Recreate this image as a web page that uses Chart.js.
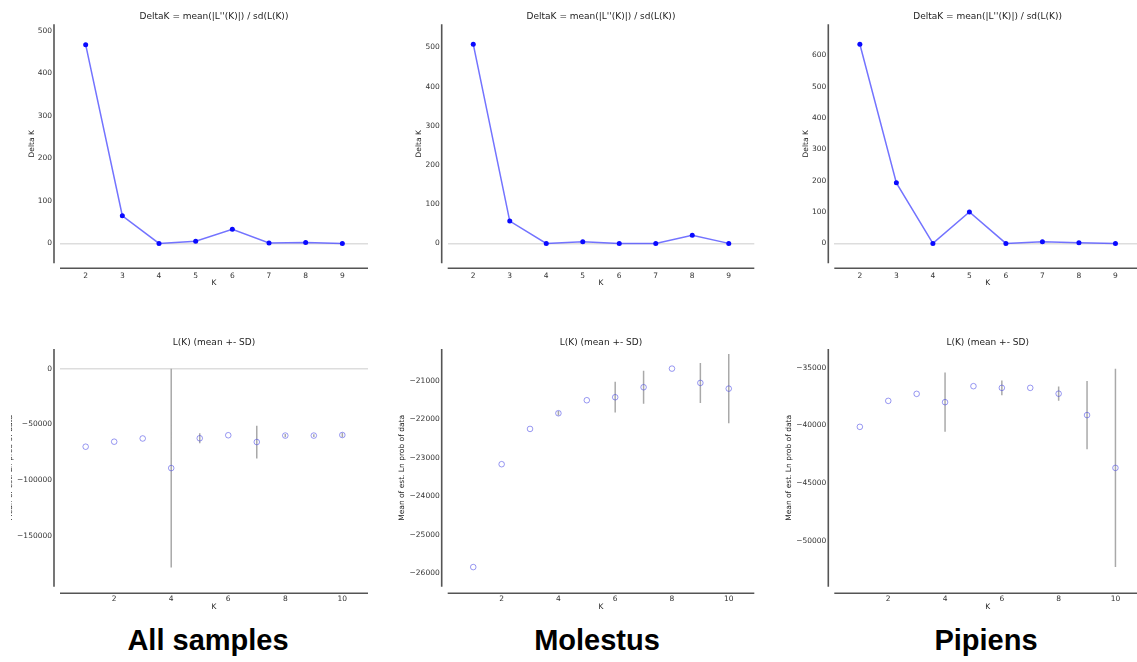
<!DOCTYPE html>
<html><head><meta charset="utf-8">
<script src="https://cdn.jsdelivr.net/npm/chart.js@4.4.1/dist/chart.umd.min.js"></script>
<style>
html,body{margin:0;padding:0;background:#fff;overflow:hidden;width:1137px;height:662px;position:relative;}
.wrap{position:absolute;overflow:hidden;}
.wrap canvas{position:absolute;top:0;}
.lbl{position:absolute;top:624px;font-family:'Liberation Sans',Arial,sans-serif;font-weight:bold;font-size:29px;line-height:33px;color:#000;white-space:nowrap;transform:translateX(-50%);}
</style></head><body>
<div class="lbl" style="left:208px">All samples</div>
<div class="lbl" style="left:597px">Molestus</div>
<div class="lbl" style="left:986px">Pipiens</div>
<script>
// ---------------- DATA ----------------
const kDelta = [2, 3, 4, 5, 6, 7, 8, 9];
const deltaAll = [468, 65, 0, 5, 33, 1, 2, 0];
const deltaMolestus = [508, 57, 0, 4, 0, 0, 21, 0];
const deltaPipiens = [635, 193, 0, 100, 0, 5, 2, 0];

const kL = [1, 2, 3, 4, 5, 6, 7, 8, 9, 10];
const meanAll = [-70000, -65500, -62600, -89200, -62400, -59700, -65800, -60000, -60000, -59500];
const sdAll = [0, 0, 0, 89300, 4500, 0, 14700, 1500, 1200, 2000];
const meanMolestus = [-25840, -23165, -22248, -21840, -21502, -21424, -21164, -20680, -21052, -21200];
const sdMolestus = [0, 0, 0, 60, 0, 400, 430, 0, 520, 900];
const meanPipiens = [-40140, -37887, -37280, -38000, -36613, -36760, -36760, -37265, -39120, -43700];
const sdPipiens = [0, 0, 0, 2570, 0, 630, 0, 620, 2960, 8600];

const topKTicks = [2, 3, 4, 5, 6, 7, 8, 9];
const botKTicks = [2, 4, 6, 8, 10];
const ticksDeltaAll = [0, 100, 200, 300, 400, 500];
const ticksDeltaMolestus = [0, 100, 200, 300, 400, 500];
const ticksDeltaPipiens = [0, 100, 200, 300, 400, 500, 600];
const ticksLAll = [0, -50000, -100000, -150000];
const ticksLMolestus = [-21000, -22000, -23000, -24000, -25000, -26000];
const ticksLPipiens = [-35000, -40000, -45000, -50000];

const titleTop = "DeltaK = mean(|L''(K)|) / sd(L(K))";
const titleBot = "L(K) (mean +- SD)";
const yLabTop = "Delta K";
const yLabBot = "Mean of est. Ln prob of data";
const xLab = "K";

// ---------------- STYLE / LAYOUT ----------------
const FONT = "'DejaVu Sans', 'Bitstream Vera Sans', sans-serif";
const TICK_FONT = {family: FONT, size: 7.5, lineHeight: 1.2};
const LAB_FONT = {family: FONT, size: 7.5, lineHeight: 1.2};
const TITLE_FONT = {family: FONT, size: 9, weight: 'normal', lineHeight: 1.2};

const ROW_TOP = {T: 24.3, B: 263.3, titleY: 16.5, xTitleY: 283.3, spineY: 5, cy: 0, ch: 300};
const ROW_BOT = {T: 349, B: 586.7, titleY: 342.3, xTitleY: 606.7, spineY: 6.5, cy: 330, ch: 290};
const COLS = [
  {cx: 0, cw: 380, L: 60, R: 368},
  {cx: 380, cw: 380, L: 447.7, R: 754.3},
  {cx: 760, cw: 395, L: 834.3, R: 1141}
];

const fmt = v => (v < 0 ? '\u2212' + Math.abs(v) : String(v));

const spines = {
  id: 'spines',
  afterDraw(chart, args, opts) {
    const a = chart.chartArea, c = chart.ctx;
    c.save();
    c.strokeStyle = '#555555';
    c.lineWidth = 1.6;
    c.beginPath();
    c.moveTo(a.left - opts.offX, a.top);
    c.lineTo(a.left - opts.offX, a.bottom);
    c.moveTo(a.left, a.bottom + opts.offY);
    c.lineTo(a.right, a.bottom + opts.offY);
    c.stroke();
    c.restore();
  }
};

function makePanel(row, col, yTitleX, clipX, spec) {
  const cx = col.cx, cw = col.cw, cy = row.cy, ch = row.ch;
  const wrap = document.createElement('div');
  wrap.className = 'wrap';
  wrap.style.left = clipX + 'px';
  wrap.style.top = cy + 'px';
  wrap.style.width = (cx + cw - clipX) + 'px';
  wrap.style.height = ch + 'px';
  const cv = document.createElement('canvas');
  cv.width = cw; cv.height = ch;
  cv.style.left = (cx - clipX) + 'px';
  cv.style.width = cw + 'px'; cv.style.height = ch + 'px';
  wrap.appendChild(cv);
  document.body.appendChild(wrap);

  const halfLab = LAB_FONT.size * LAB_FONT.lineHeight / 2;
  const halfTitle = TITLE_FONT.size * TITLE_FONT.lineHeight / 2;
  const padL = yTitleX - halfLab - cx;
  const yW = col.L - yTitleX + halfLab;
  const padR = cx + cw - col.R;
  const padT = row.titleY - halfTitle - cy;
  const titleGap = row.T - row.titleY - halfTitle;
  const xH = row.xTitleY + halfLab - row.B;
  const padB = cy + ch - (row.xTitleY + halfLab);

  new Chart(cv, {
    type: 'scatter',
    data: {datasets: spec.datasets},
    plugins: [spines],
    options: {
      responsive: false, animation: false, devicePixelRatio: 1,
      events: [],
      layout: {padding: {left: padL, right: padR, top: padT, bottom: padB}},
      plugins: {
        legend: {display: false}, tooltip: {enabled: false},
        title: {display: true, text: spec.title, fullSize: false, color: '#222',
                font: TITLE_FONT, padding: {top: 0, bottom: titleGap}},
        spines: {offX: 6, offY: row.spineY}
      },
      scales: {
        x: {
          type: 'linear', min: spec.xMin, max: spec.xMax,
          afterBuildTicks: s => { s.ticks = spec.xTicks.map(v => ({value: v})); },
          afterFit: s => { s.height = xH; },
          grid: {display: false, drawTicks: false},
          border: {display: false},
          ticks: {padding: 8, color: '#333', font: TICK_FONT, maxRotation: 0, autoSkip: false, callback: fmt},
          title: {display: true, text: xLab, color: '#222', font: LAB_FONT, padding: 0}
        },
        y: {
          type: 'linear', min: spec.yMin, max: spec.yMax,
          afterBuildTicks: s => { s.ticks = spec.yTicks.map(v => ({value: v})); },
          afterFit: s => { s.width = yW; },
          grid: {display: true, drawTicks: false, lineWidth: 1.5,
                 color: ctx => (ctx.tick && ctx.tick.value === 0 ? '#dddddd' : 'rgba(0,0,0,0)')},
          border: {display: false},
          ticks: {padding: 8, color: '#333', font: TICK_FONT, autoSkip: false, callback: fmt},
          title: {display: true, text: spec.yLabel, color: '#222', font: LAB_FONT, padding: 0}
        }
      }
    }
  });
}

function deltaSpec(vals, yTicks, yMin, yMax) {
  return {
    title: titleTop, yLabel: yLabTop, xTicks: topKTicks, yTicks, xMin: 1.3, xMax: 9.7, yMin, yMax,
    datasets: [{
      data: kDelta.map((k, i) => ({x: k, y: vals[i]})),
      showLine: true, borderColor: 'rgba(80,80,255,0.8)', borderWidth: 1.5, tension: 0, fill: false,
      pointRadius: 2.5, pointBackgroundColor: '#0a0aff', pointBorderColor: '#0a0aff', pointBorderWidth: 0
    }]
  };
}

function lkSpec(means, sds, yTicks, yMin, yMax) {
  const bars = [];
  kL.forEach((k, i) => {
    bars.push({x: k, y: means[i] - sds[i]});
    bars.push({x: k, y: means[i] + sds[i]});
    bars.push({x: k, y: null});
  });
  return {
    title: titleBot, yLabel: yLabBot, xTicks: botKTicks, yTicks, xMin: 0.1, xMax: 10.9, yMin, yMax,
    datasets: [
      {
        data: kL.map((k, i) => ({x: k, y: means[i]})),
        showLine: false, pointRadius: 2.8, pointBorderWidth: 1,
        pointBackgroundColor: 'rgba(0,0,0,0)', pointBorderColor: 'rgba(70,70,230,0.55)'
      },
      {
        data: bars, showLine: true, spanGaps: false, borderColor: '#a9a9a9', borderWidth: 1.5,
        pointRadius: 0, tension: 0, fill: false
      }
    ]
  };
}

makePanel(ROW_TOP, COLS[0], 32, 0, deltaSpec(deltaAll, ticksDeltaAll, -46.9, 515.9));
makePanel(ROW_TOP, COLS[1], 419, 380, deltaSpec(deltaMolestus, ticksDeltaMolestus, -50.8, 558.8));
makePanel(ROW_TOP, COLS[2], 806, 760, deltaSpec(deltaPipiens, ticksDeltaPipiens, -63.5, 698.5));
makePanel(ROW_BOT, COLS[0], 10, 10.5, lkSpec(meanAll, sdAll, ticksLAll, -195800, 17800));
makePanel(ROW_BOT, COLS[1], 401.7, 380, lkSpec(meanMolestus, sdMolestus, ticksLMolestus, -26350, -20170));
makePanel(ROW_BOT, COLS[2], 789.3, 760, lkSpec(meanPipiens, sdPipiens, ticksLPipiens, -54000, -33390));
</script>
</body></html>
